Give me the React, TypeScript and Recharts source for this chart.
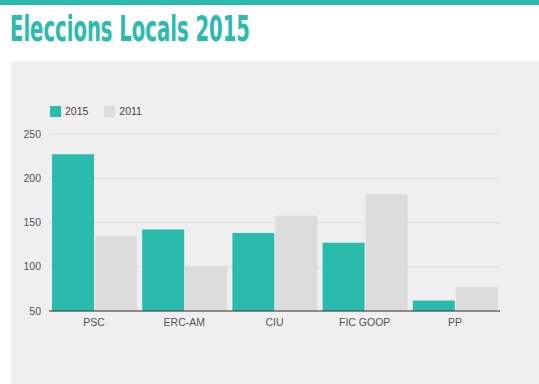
import React from 'react';
import { BarChart, Bar, XAxis, YAxis, CartesianGrid } from 'recharts';

const parties = ['PSC', 'ERC-AM', 'CIU', 'FIC GOOP', 'PP'];
const votes2015 = [227, 142, 138, 127, 62];
const votes2011 = [135, 100, 158, 182, 77];
const yTicks = [50, 100, 150, 200, 250];

const TEAL = '#2bbbad';
const GREY = '#dcdcdc';

const data = parties.map((p, i) => ({ party: p, y2015: votes2015[i], y2011: votes2011[i] }));

const tickStyle = { fontFamily: 'Liberation Sans, Arial, sans-serif', fontSize: 10.5, fill: '#555' };

export default function App() {
  return (
    <div style={{ position: 'fixed', top: 0, left: 0, width: 539, height: 384, background: '#fff', overflow: 'hidden' }}>
      <div style={{ position: 'absolute', top: 0, left: 0, width: 539, height: 5, background: TEAL }} />
      <svg style={{ position: 'absolute', top: 0, left: 0 }} width={539} height={60}>
        <text
          x={10}
          y={41}
          textLength={240}
          lengthAdjust="spacingAndGlyphs"
          fill={TEAL}
          style={{ fontFamily: 'Liberation Sans Narrow, DejaVu Sans Condensed, Liberation Sans, sans-serif', fontWeight: 700, fontSize: 35 }}
        >
          Eleccions Locals 2015
        </text>
      </svg>
      <div style={{ position: 'absolute', top: 61, left: 11, width: 528, height: 323, background: '#efefef' }} />
      <div style={{ position: 'absolute', top: 105, left: 50, display: 'flex', alignItems: 'center', fontFamily: 'Liberation Sans, Arial, sans-serif', fontSize: 10.5, color: '#444' }}>
        <span style={{ width: 11, height: 11, background: TEAL, display: 'inline-block' }} />
        <span style={{ marginLeft: 4, marginRight: 16 }}>2015</span>
        <span style={{ width: 11, height: 11, background: GREY, display: 'inline-block' }} />
        <span style={{ marginLeft: 4 }}>2011</span>
      </div>
      <div style={{ position: 'absolute', top: 0, left: 0 }}>
        <BarChart
          width={539}
          height={384}
          data={data}
          margin={{ top: 134, right: 39, bottom: 43, left: 0 }}
          barCategoryGap={3}
          barGap={1}
        >
          <CartesianGrid vertical={false} stroke="#dadada" />
          <XAxis
            dataKey="party"
            tickLine={false}
            axisLine={{ stroke: '#333', strokeWidth: 1 }}
            tick={tickStyle}
            height={30}
          />
          <YAxis
            width={49}
            domain={[50, 250]}
            ticks={yTicks}
            allowDataOverflow
            tickLine={false}
            axisLine={false}
            tick={tickStyle}
          />
          <Bar dataKey="y2015" fill={TEAL} isAnimationActive={false} />
          <Bar dataKey="y2011" fill={GREY} isAnimationActive={false} />
        </BarChart>
      </div>
    </div>
  );
}
